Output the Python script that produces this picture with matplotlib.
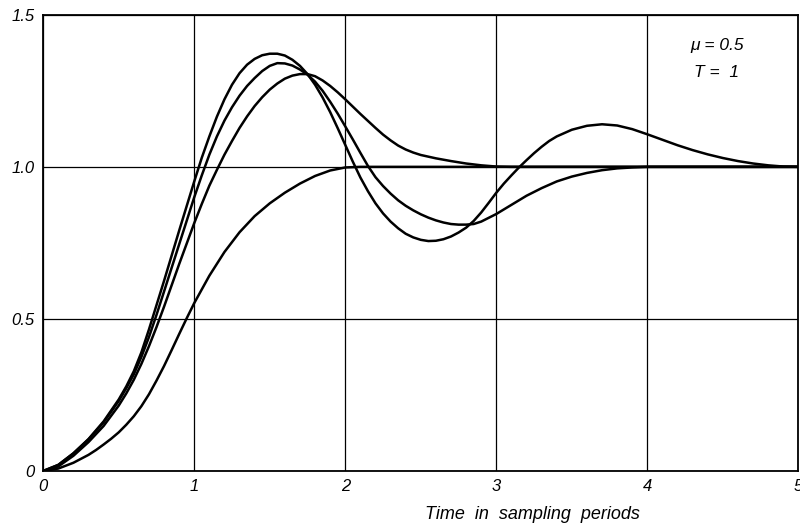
import matplotlib
matplotlib.use('Agg')
import matplotlib.pyplot as plt

# curves (time in sampling periods)
t_a = [0.0, 0.1, 0.2, 0.3, 0.4, 0.5, 0.55, 0.6, 0.65, 0.7, 0.75, 0.8, 0.9, 1.0, 1.05, 1.1,
       1.15, 1.2, 1.25, 1.3, 1.35, 1.4, 1.45, 1.5, 1.55, 1.6, 1.65, 1.7, 1.75, 1.8, 1.85,
       1.9, 1.95, 2.0, 2.05, 2.1, 2.15, 2.2, 2.25, 2.3, 2.35, 2.4, 2.45, 2.5, 2.55, 2.6,
       2.65, 2.7, 2.75, 2.8, 2.85, 2.9, 2.95, 3.0, 3.05, 3.1, 3.15, 3.2, 3.25, 3.3, 3.35,
       3.4, 3.5, 3.6, 3.7, 3.8, 3.9, 4.0, 4.1, 4.2, 4.3, 4.4, 4.5, 4.6, 4.7, 4.8, 4.9, 5.0]
y_a = [0.0, 0.02, 0.058, 0.105, 0.163, 0.235, 0.278, 0.328, 0.39, 0.465, 0.545, 0.625, 0.79,
       0.952, 1.03, 1.1, 1.165, 1.222, 1.27, 1.308, 1.336, 1.355, 1.367, 1.372, 1.372, 1.366,
       1.352, 1.332, 1.305, 1.27, 1.228, 1.18, 1.127, 1.072, 1.017, 0.965, 0.92, 0.88, 0.847,
       0.82, 0.798, 0.78, 0.768, 0.76, 0.756, 0.757, 0.762, 0.771, 0.784, 0.8, 0.822, 0.85,
       0.882, 0.915, 0.945, 0.972, 0.998, 1.022, 1.045, 1.066, 1.085, 1.1, 1.122, 1.135,
       1.14, 1.136, 1.124, 1.107, 1.089, 1.071, 1.055, 1.041, 1.029, 1.019, 1.011, 1.005,
       1.001, 1.0]

t_b = [0.0, 0.1, 0.2, 0.3, 0.4, 0.5, 0.55, 0.6, 0.65, 0.7, 0.75, 0.8, 0.9, 1.0, 1.05, 1.1,
       1.15, 1.2, 1.25, 1.3, 1.35, 1.4, 1.45, 1.5, 1.55, 1.6, 1.65, 1.7, 1.75, 1.8, 1.85,
       1.9, 1.95, 2.0, 2.05, 2.1, 2.15, 2.2, 2.25, 2.3, 2.35, 2.4, 2.45, 2.5, 2.55, 2.6,
       2.65, 2.7, 2.75, 2.8, 2.85, 2.9, 3.0, 3.1, 3.2, 3.3, 3.4, 3.5, 3.6, 3.7, 3.8, 3.9,
       4.0, 5.0]
y_b = [0.0, 0.02, 0.058, 0.104, 0.16, 0.23, 0.272, 0.318, 0.375, 0.44, 0.513, 0.59, 0.745,
       0.9, 0.972, 1.04, 1.1, 1.152, 1.196, 1.234, 1.266, 1.292, 1.315, 1.332, 1.341, 1.34,
       1.333, 1.32, 1.303, 1.28, 1.25, 1.214, 1.175, 1.133, 1.09, 1.046, 1.003, 0.966, 0.937,
       0.912, 0.89, 0.872, 0.857, 0.844, 0.833, 0.824, 0.817, 0.812, 0.81, 0.81, 0.812, 0.82,
       0.845, 0.875, 0.905, 0.93, 0.952, 0.968, 0.98, 0.989, 0.995, 0.998, 1.0, 1.0]

t_c = [0.0, 0.1, 0.2, 0.3, 0.4, 0.5, 0.55, 0.6, 0.65, 0.7, 0.75, 0.8, 0.85, 0.9, 1.0, 1.05,
       1.1, 1.15, 1.2, 1.25, 1.3, 1.35, 1.4, 1.45, 1.5, 1.55, 1.6, 1.65, 1.7, 1.75, 1.8,
       1.85, 1.9, 1.95, 2.0, 2.05, 2.1, 2.15, 2.2, 2.25, 2.3, 2.35, 2.4, 2.45, 2.5, 2.6, 2.7,
       2.8, 2.9, 3.0, 3.1, 5.0]
y_c = [0.0, 0.015, 0.05, 0.095, 0.148, 0.215, 0.255, 0.3, 0.352, 0.41, 0.473, 0.54, 0.61,
       0.68, 0.815, 0.878, 0.938, 0.99, 1.04, 1.085, 1.128, 1.166, 1.2, 1.229, 1.254, 1.274,
       1.29, 1.3, 1.305, 1.305, 1.298, 1.284, 1.266, 1.245, 1.222, 1.198, 1.174, 1.151,
       1.128, 1.106, 1.087, 1.07, 1.057, 1.047, 1.039, 1.028, 1.019, 1.011, 1.005, 1.001,
       1.0, 1.0]

t_d = [0.0, 0.1, 0.2, 0.3, 0.35, 0.4, 0.45, 0.5, 0.55, 0.6, 0.65, 0.7, 0.75, 0.8, 0.85, 0.9,
       0.95, 1.0, 1.1, 1.2, 1.3, 1.4, 1.5, 1.6, 1.7, 1.8, 1.9, 2.0, 2.1, 5.0]
y_d = [0.0, 0.008, 0.027, 0.053, 0.069, 0.087, 0.106, 0.127, 0.152, 0.18, 0.213, 0.252,
       0.297, 0.345, 0.397, 0.45, 0.502, 0.552, 0.642, 0.72, 0.785, 0.838, 0.88, 0.915,
       0.945, 0.97, 0.988, 0.998, 1.0, 1.0]

x_ticks = [0, 1, 2, 3, 4, 5]
x_labels = ['0', '1', '2', '3', '4', '5']
y_ticks = [0, 0.5, 1.0, 1.5]
y_labels = ['0', '0.5', '1.0', '1.5']

plt.rcParams['font.family'] = ['Liberation Sans', 'DejaVu Sans']

fig = plt.figure(figsize=(8, 5.28), dpi=100)
ax = fig.add_axes([0.054, 0.108, 0.944, 0.864])

for t, y in [(t_a, y_a), (t_b, y_b), (t_c, y_c), (t_d, y_d)]:
    ax.plot(t, y, color='black', linewidth=1.8, solid_joinstyle='round')

ax.set_xlim(0, 5)
ax.set_ylim(0, 1.5)
ax.set_xticks(x_ticks)
ax.set_xticklabels(x_labels, fontsize=12, style='italic')
ax.set_yticks(y_ticks)
ax.set_yticklabels(y_labels, fontsize=12, style='italic')
ax.tick_params(length=0, pad=6)
ax.grid(True, color='black', linewidth=0.9)
for s in ax.spines.values():
    s.set_linewidth(1.3)

ax.text(4.46, 1.40, '\u03bc = 0.5', fontsize=12.5, style='italic', ha='center', va='center')
ax.text(4.46, 1.31, 'T =  1', fontsize=12.5, style='italic', ha='center', va='center')

fig.text(0.665, 0.025, 'Time  in  sampling  periods', fontsize=13, style='italic',
         ha='center', va='center')

fig.savefig('out.png', dpi=100, facecolor='white')
